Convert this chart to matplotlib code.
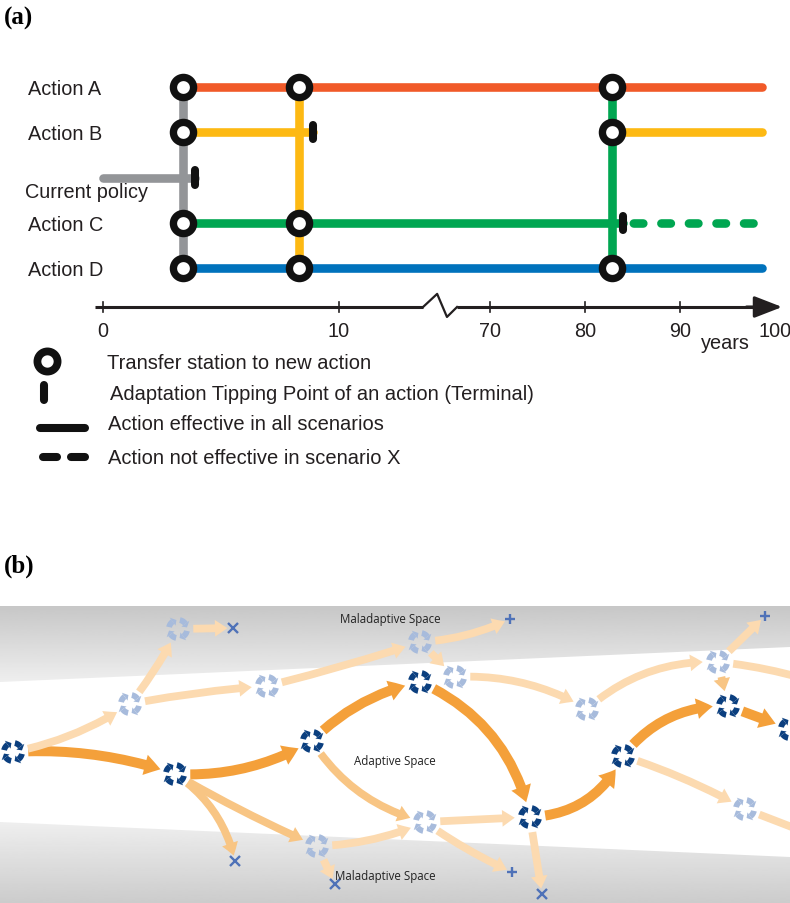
import numpy as np
import matplotlib
matplotlib.use("Agg")
import matplotlib.pyplot as plt
from matplotlib.patches import Wedge, Polygon, FancyArrowPatch, ArrowStyle
from matplotlib import transforms

plt.rcParams['font.family'] = ['Liberation Sans', 'DejaVu Sans']

# ---------------- data: panel (a) adaptation pathways map ----------------
actions = ['Action A', 'Action B', 'Current policy', 'Action C', 'Action D']
action_colors = ['#f15a29', '#fdb913', '#939598', '#00a651', '#0072bc']

# horizontal action segments (years)
seg_action = ['Current policy', 'Action A', 'Action B', 'Action B', 'Action C', 'Action C', 'Action D']
seg_start = [0.0, 3.4, 3.4, 82.8, 3.4, 84.0, 3.4]
seg_end = [3.9, 98.6, 8.9, 98.6, 84.0, 98.6, 98.6]
seg_effective = [True, True, True, True, True, False, True]

# transfer lines (vertical) and transfer stations
transfer_year = [3.4, 8.3, 82.8]
transfer_action = ['Current policy', 'Action B', 'Action C']
station_year = [3.4, 3.4, 3.4, 3.4, 8.3, 8.3, 8.3, 82.8, 82.8, 82.8]
station_action = ['Action A', 'Action B', 'Action C', 'Action D',
                  'Action A', 'Action C', 'Action D',
                  'Action A', 'Action B', 'Action D']

# adaptation tipping points (terminals)
tip_year = [3.9, 8.9, 84.0]
tip_action = ['Current policy', 'Action B', 'Action C']

tick_years = [0, 10, 70, 80, 90, 100]
tick_labels = ['0', '10', '70', '80', '90', '100']

legend_labels = ['Transfer station to new action',
                 'Adaptation Tipping Point of an action (Terminal)',
                 'Action effective in all scenarios',
                 'Action not effective in scenario X']

# ---------------- data: panel (b) adaptive space diagram ----------------
node_x = [13, 130, 178, 267, 175, 312, 317, 420, 420, 455, 587, 530, 425, 623, 718, 728, 790, 745]
node_y = [146, 98, 23, 80, 168, 135, 240, 36, 76, 71, 103, 211, 216, 150, 56, 100, 123, 203]
node_kind = ['dark', 'light', 'light', 'light', 'dark', 'dark', 'light', 'light', 'dark',
             'light', 'light', 'dark', 'light', 'dark', 'light', 'dark', 'dark', 'light']

end_x = [233, 235, 335, 510, 512, 542, 765, 812, 815]
end_y = [22, 255, 278, 13, 266, 288, 10, 75, 230]
end_kind = ['x', 'x', 'x', '+', '+', 'x', '+', 'none', 'none']

arrow_from = ['N0', 'N4', 'N5', 'N8', 'N11', 'N13', 'N15',
              'N0', 'N1', 'N2', 'N1', 'N3', 'N7', 'N7', 'N9', 'N10', 'N14', 'N14', 'N14',
              'N4', 'N4', 'N6', 'N6', 'N5', 'N12', 'N12', 'N11', 'N13', 'N17']
arrow_to = ['N4', 'N5', 'N8', 'N11', 'N13', 'N15', 'N16',
            'N1', 'N2', 'E0', 'N3', 'N7', 'E3', 'N9', 'N10', 'N14', 'E6', 'E7', 'N15',
            'E1', 'N6', 'E2', 'N12', 'N12', 'N11', 'E4', 'E5', 'N17', 'E8']
arrow_rad = [-0.1, 0.15, -0.15, -0.25, 0.3, -0.25, 0.0,
             0.1, 0.05, 0.0, -0.03, 0.02, 0.1, 0.0, -0.15, -0.2, 0.0, -0.05, 0.0,
             -0.2, 0.03, 0.0, 0.1, 0.2, 0.0, 0.05, 0.0, -0.05, 0.0]
arrow_shade = ['main'] * 7 + ['light'] * 11 + ['mid'] + ['mid', 'mid', 'light', 'light', 'mid',
                                                          'light', 'light', 'light', 'light', 'light']

space_labels = ['Maladaptive Space', 'Adaptive Space', 'Maladaptive Space']

# ---------------- figure ----------------
W, H = 790, 904
fig = plt.figure(figsize=(W / 100, H / 100), dpi=100)

# panel (b) axes (drawn first, underneath)
PB_TOP = 607
axb = fig.add_axes([0, 0, 1, (H - PB_TOP) / H])
axb.set_xlim(0, W)
axb.set_ylim(H - PB_TOP, 0)
axb.axis('off')

# panel (a) axes with broken time scale
year_knots = np.array([-1000.0, 0.0, 10.0, 70.0, 100.0, 1100.0])
s0 = (339 - 103) / 10.0
s1 = (775 - 490) / 30.0
pix_knots = np.array([103 - 1000 * s0, 103, 339, 490, 775, 775 + 1000 * s1])


def fwd(v):
    return np.interp(v, year_knots, pix_knots)


def inv(p):
    return np.interp(p, pix_knots, year_knots)


ROW0, ROWSTEP = 88.0, 45.25
axa = fig.add_axes([0, 0, 1, 1])
axa.set_xscale('function', functions=(fwd, inv))
axa.set_xlim(inv(0), inv(W))
axa.set_ylim((H - ROW0) / ROWSTEP, -ROW0 / ROWSTEP)
axa.axis('off')

# overlay pixel axes for labels / legend
axp = fig.add_axes([0, 0, 1, 1])
axp.set_xlim(0, W)
axp.set_ylim(H, 0)
axp.axis('off')

row = {a: i for i, a in enumerate(actions)}
col = dict(zip(actions, action_colors))
LW = 6.2
TXT = '#231f20'

# horizontal segments
for a, s, e, eff in zip(seg_action, seg_start, seg_end, seg_effective):
    if eff:
        axa.plot([s, e], [row[a], row[a]], color=col[a], lw=LW, solid_capstyle='round', zorder=2)
    else:
        axa.plot([s, e], [row[a], row[a]], color=col[a], lw=LW, dash_capstyle='round',
                 linestyle=(2.0, (1.1, 2.1)), zorder=2)

# vertical transfers
for t, a in zip(transfer_year, transfer_action):
    axa.plot([t, t], [row['Action A'], row['Action D']], color=col[a], lw=LW,
             solid_capstyle='butt', zorder=3)

# transfer stations
axa.plot(station_year, [row[a] for a in station_action], 'o', ms=14.5, mew=5.3,
         mfc='white', mec='#111111', zorder=5, ls='none')

# terminals
for t, a in zip(tip_year, tip_action):
    axa.plot([t, t], [row[a] - 0.16, row[a] + 0.16], color='#111111', lw=5.8,
             solid_capstyle='round', zorder=6)

# row labels
blend = transforms.blended_transform_factory(axp.transData, axa.transData)
for a in actions:
    if a == 'Current policy':
        axa.text(25, row[a] + 0.3, a, transform=blend, fontsize=14.3, ha='left',
                 va='center', color=TXT)
    else:
        axa.text(28, row[a] + 0.03, a, transform=blend, fontsize=14.3, ha='left',
                 va='center', color=TXT)

# time axis with break
AX_ROW = (308 - ROW0) / ROWSTEP
brk = [43.4, 49.0, 52.9, 56.9]
axa.plot([-0.35, brk[0]], [AX_ROW, AX_ROW], color=TXT, lw=2.2, zorder=2,
         solid_capstyle='butt')
axa.plot(brk, [AX_ROW, AX_ROW - 0.29, AX_ROW + 0.22, AX_ROW], color=TXT, lw=1.6,
         zorder=2)
axa.plot([brk[3], 98.0], [AX_ROW, AX_ROW], color=TXT, lw=2.2, zorder=2,
         solid_capstyle='butt')
axa.annotate('', xy=(100.75, AX_ROW), xytext=(97.0, AX_ROW),
             arrowprops=dict(arrowstyle='-|>,head_length=0.85,head_width=0.33',
                             mutation_scale=20, color=TXT, lw=2.2,
                             shrinkA=0, shrinkB=0))
for ty, tl in zip(tick_years, tick_labels):
    if ty < 100:
        axa.plot([ty, ty], [AX_ROW - 0.1, AX_ROW + 0.1], color=TXT, lw=1.2, zorder=2)
    axa.text(ty, AX_ROW + 0.52, tl, fontsize=14.3, ha='center', va='center', color=TXT)
axp.text(725, 344, 'years', fontsize=14.3, ha='center', va='center', color=TXT)

# legend
axp.plot([47], [362], 'o', ms=14.5, mew=5.6, mfc='white', mec='#111111')
axp.plot([44, 44], [386, 401], color='#111111', lw=5.8, solid_capstyle='round')
axp.plot([40, 85], [429, 429], color='#111111', lw=5.8, solid_capstyle='round')
axp.plot([43, 57], [458, 458], color='#111111', lw=5.8, solid_capstyle='round')
axp.plot([71, 85], [458, 458], color='#111111', lw=5.8, solid_capstyle='round')
for lab, lx, ly in zip(legend_labels, [107, 110, 108, 108], [364, 395, 425, 459]):
    axp.text(lx, ly, lab, fontsize=14.5, ha='left', va='center', color=TXT)

# panel labels
axp.text(4, 18, '(a)', fontsize=18, fontweight='bold', family=['Liberation Serif'],
         ha='left', va='center')
axp.text(4, 566, '(b)', fontsize=18, fontweight='bold', family=['Liberation Serif'],
         ha='left', va='center')

# ---------------- panel (b) drawing ----------------
PH = H - PB_TOP
top_poly = Polygon([(0, 0), (W, 0), (W, 41), (0, 76)], closed=True, transform=axb.transData)
bot_poly = Polygon([(0, 216), (W, 251), (W, PH), (0, PH)], closed=True, transform=axb.transData)
grad_top = np.linspace(0.78, 0.935, 100).reshape(-1, 1)
grad_bot = np.linspace(0.935, 0.80, 100).reshape(-1, 1)
im1 = axb.imshow(grad_top, cmap='gray', vmin=0, vmax=1, aspect='auto',
                 extent=[0, W, 76, 0], origin='upper', zorder=0)
im1.set_clip_path(top_poly)
im2 = axb.imshow(grad_bot, cmap='gray', vmin=0, vmax=1, aspect='auto',
                 extent=[0, W, PH, 216], origin='upper', zorder=0)
im2.set_clip_path(bot_poly)
axb.set_xlim(0, W)
axb.set_ylim(PH, 0)

pts = {}
for i, (x, y) in enumerate(zip(node_x, node_y)):
    pts['N%d' % i] = (x, y, 'node')
for i, (x, y, k) in enumerate(zip(end_x, end_y, end_kind)):
    pts['E%d' % i] = (x, y, k)

shade_col = {'main': '#f4a03a', 'mid': '#f8c584', 'light': '#fcdab0'}
for f, t, r, sh in zip(arrow_from, arrow_to, arrow_rad, arrow_shade):
    x1, y1, k1 = pts[f]
    x2, y2, k2 = pts[t]
    if sh == 'main':
        st = ArrowStyle.Simple(head_length=11.5, head_width=15, tail_width=7.2)
    else:
        st = ArrowStyle.Simple(head_length=9, head_width=12, tail_width=5.6)
    sA = 11 if k1 == 'node' else 3
    sB = 11 if k2 == 'node' else (4 if k2 != 'none' else 0)
    arr = FancyArrowPatch((x1, y1), (x2, y2), arrowstyle=st,
                          connectionstyle='arc3,rad=%g' % r, color=shade_col[sh],
                          lw=0, shrinkA=sA, shrinkB=sB, zorder=2)
    axb.add_patch(arr)

node_col = {'dark': '#0b3f7f', 'light': '#a7bbdc'}


def draw_node(ax, x, y, c):
    for k in range(4):
        a0 = 90 * k + 12
        ax.add_patch(Wedge((x, y), 12.0, a0, a0 + 42, width=5.8, color=c, lw=0, zorder=4))
        tb = np.deg2rad(a0 + 42)
        tt = np.deg2rad(a0 + 68)
        tri = [(x + 4.2 * np.cos(tb), y + 4.2 * np.sin(tb)),
               (x + 14.0 * np.cos(tb), y + 14.0 * np.sin(tb)),
               (x + 9.1 * np.cos(tt), y + 9.1 * np.sin(tt))]
        ax.add_patch(Polygon(tri, closed=True, color=c, lw=0, zorder=4))


for x, y, k in zip(node_x, node_y, node_kind):
    draw_node(axb, x, y, node_col[k])

for x, y, k in zip(end_x, end_y, end_kind):
    if k in ('x', '+'):
        axb.plot([x], [y], marker=k, ms=6.5, mew=1.7, color='#4f72b8', zorder=5)

for lab, (lx, ly) in zip(space_labels, [(390, 13), (395, 155), (385, 270)]):
    axb.text(lx, ly, lab, fontsize=8.3, family=['Open Sans'], ha='center', va='center',
             color='#222222', zorder=6)

fig.savefig('out.png', dpi=100)
